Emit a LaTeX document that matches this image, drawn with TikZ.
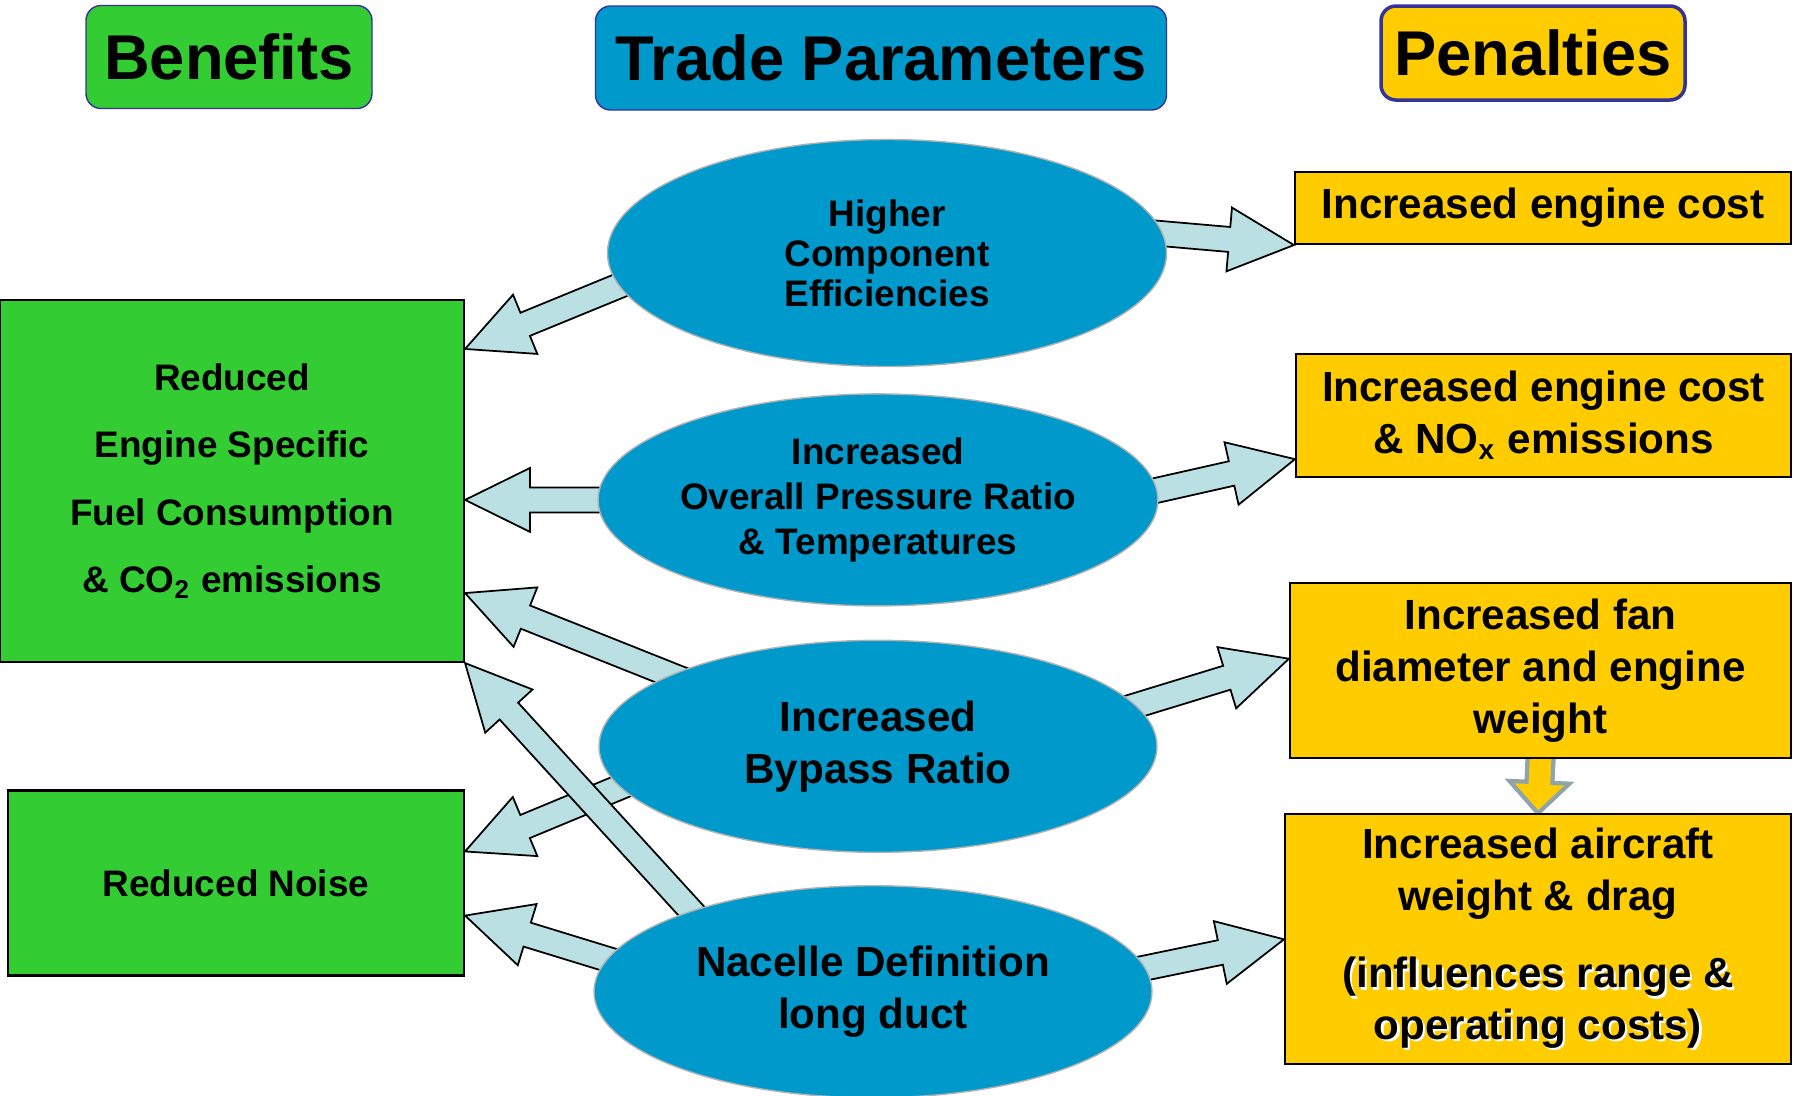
\documentclass[tikz,border=0pt]{standalone}
\usepackage{fontspec}
\setmainfont{Liberation Sans}
\usepackage{tikz}
\usetikzlibrary{calc,positioning,shapes.geometric,backgrounds}
\definecolor{Leaf}{HTML}{33CC33}
\definecolor{Sea}{HTML}{0099CC}
\definecolor{Amber}{HTML}{FFCC00}
\definecolor{Ice}{HTML}{BBE0E3}
\definecolor{Ink}{HTML}{333399}
\definecolor{Slate}{HTML}{8FA3AA}
\newcommand{\fashaft}{0.125cm}
\newcommand{\fahead}{0.32cm}
\newcommand{\falen}{0.65cm}
\newcommand{\fatarrow}[3][blockarrow]{%
  \coordinate (fa-tail) at ($(#3)!1.2!(#2)$);
  \coordinate (fa-base) at ($(#3)!\falen!(#2)$);
  \draw[#1] ($(fa-tail)!\fashaft!90:(#3)$) -- ($(fa-base)!\fashaft!-90:(fa-tail)$) -- ($(fa-base)!\fahead!-90:(fa-tail)$) -- (#3) -- ($(fa-base)!\fahead!90:(fa-tail)$) -- ($(fa-base)!\fashaft!90:(fa-tail)$) -- ($(fa-tail)!\fashaft!-90:(#3)$) -- cycle;}
\newcommand{\shadowed}[1]{\leavevmode\rlap{\hspace{0.6pt}\raisebox{-0.6pt}{\color{white}#1}}#1}

\begin{document}
\begin{tikzpicture}[x=0.1mm, y=-0.1mm, every node/.style={font=\bfseries},
  header/.style={rounded corners=1.5mm, draw=Ink, line width=0.4pt, inner sep=0pt, font=\fontsize{18}{21}\selectfont\bfseries},
  benefit/.style={draw=black, fill=Leaf, line width=0.6pt, inner sep=0pt, align=center, font=\fontsize{10.5}{19.2}\selectfont\bfseries},
  param/.style={ellipse, draw=gray!60, fill=Sea, line width=0.4pt, inner sep=0pt, align=center, minimum width=5.58cm, minimum height=2.12cm},
  penalty/.style={draw=black, fill=Amber, line width=0.6pt, inner sep=0pt, align=center, font=\fontsize{12}{14.7}\selectfont\bfseries},
  blockarrow/.style={draw=black, fill=Ice, line width=0.5pt, line join=miter},
  feedarrow/.style={draw=Slate, fill=Amber, line width=1.2pt}]
\useasboundingbox (0,0) rectangle (1797,1095);
% column headers
\node[header, fill=Leaf, minimum width=2.86cm, minimum height=1.03cm] (hben) at (229,57) {Benefits};
\node[header, fill=Sea, minimum width=5.71cm, minimum height=1.04cm] (htrade) at (881,58) {Trade Parameters};
\node[header, fill=Amber, line width=1pt, minimum width=3.04cm, minimum height=0.94cm] (hpen) at (1533,53) {Penalties};
% trade parameters
\node[param, minimum width=5.59cm, minimum height=2.27cm, font=\fontsize{10.5}{11.4}\selectfont\bfseries] (hce) at (887,253) {Higher\\Component\\Efficiencies};
\node[param, below=0.26cm of hce, xshift=-0.09cm, font=\fontsize{10.5}{12.8}\selectfont\bfseries] (opr) {Increased\\Overall Pressure Ratio\\\& Temperatures};
\node[param, below=0.33cm of opr, font=\fontsize{12}{14.7}\selectfont\bfseries] (bpr) {Increased\\Bypass Ratio};
\node[param, below=0.32cm of bpr, xshift=-0.05cm, font=\fontsize{12}{14.7}\selectfont\bfseries] (ncd) {Nacelle Definition\\long duct};
% benefits
\node[benefit, minimum width=4.64cm, minimum height=3.62cm] (ben) at (232,481) {Reduced\\Engine Specific\\Fuel Consumption\\\& CO\textsubscript{2} emissions};
\node[benefit, minimum width=4.56cm, minimum height=1.85cm] (nse) at (236,883) {Reduced Noise};
% penalties
\node[penalty, minimum width=4.96cm, minimum height=0.72cm] (pen1) at (1543,208) {Increased engine cost};
\node[penalty, minimum width=4.95cm, minimum height=1.23cm, below=1.08cm of pen1.south east, anchor=north east] (pen2) {Increased engine cost\\\& NO\textsubscript{x} emissions};
\node[penalty, minimum width=5.01cm, minimum height=1.75cm, below=1.04cm of pen2.south east, anchor=north east] (pen3) {Increased fan\\diameter and engine\\weight};
\node[penalty, minimum width=5.06cm, minimum height=2.5cm, below=0.54cm of pen3.south east, anchor=north east] (pen4) {Increased aircraft\\weight \& drag\\[7.4pt]\shadowed{(influences range \&}\\\shadowed{operating costs)}};
% arrow tips on the boxes
\coordinate (b1) at ([yshift=-0.5cm]ben.north east);
\coordinate (b2) at (ben.east |- opr.west);
\coordinate (b3) at ([yshift=0.7cm]ben.south east);
\coordinate (n1) at ([yshift=-0.62cm]nse.north east);
\coordinate (n2) at ([yshift=0.61cm]nse.south east);
\coordinate (p2) at ([yshift=0.19cm]pen2.south west);
\coordinate (p3) at ([yshift=0.12cm]pen3.west);
\begin{scope}[on background layer]
\foreach \s/\t in {hce.187/b1, opr.west/b2, bpr.161/b3, bpr.189/n1, ncd.156/ben.south east, ncd.173/n2, hce.4/pen1.south west, opr.2/p2, bpr.9/p3, ncd.5/pen4.west}{\fatarrow{\s}{\t}}
\def\fashaft{0.13cm}\def\fahead{0.3cm}\def\falen{0.31cm}
\fatarrow[feedarrow]{pen3.south}{pen4.north}
\end{scope}
\end{tikzpicture}
\end{document}
